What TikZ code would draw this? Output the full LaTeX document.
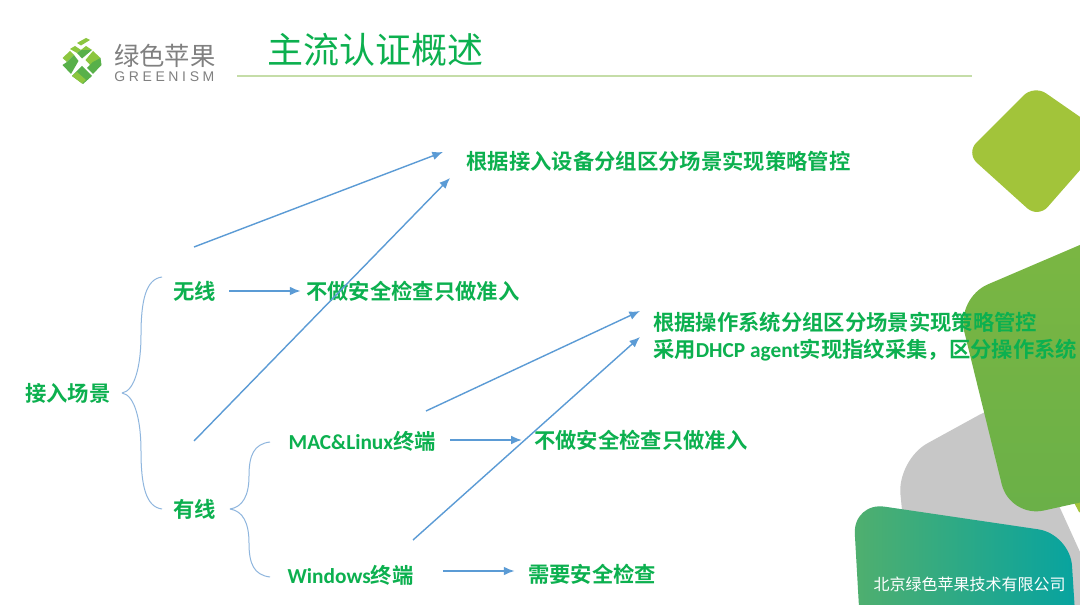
\documentclass[tikz,border=0pt]{standalone}
\usepackage{fontspec}
\setmainfont{Liberation Sans}
\newfontfamily\cjk{Noto Sans CJK SC}
\newfontfamily\cjkb{Noto Sans CJK SC Bold}
\newfontfamily\latb{Carlito}[BoldFont={Carlito Bold}]
\newcommand{\lat}[1]{{\latb\bfseries #1}}
\usetikzlibrary{arrows.meta}
\definecolor{lab}{HTML}{0CB04F}
\definecolor{arrowblue}{HTML}{5B9BD5}
\definecolor{braceblue}{HTML}{8FB6DE}
\definecolor{rule}{HTML}{C5DDA8}
\definecolor{lime}{HTML}{A2C43A}
\definecolor{logogrey}{HTML}{808080}
\definecolor{leafa}{HTML}{8CC63F}
\definecolor{leafb}{HTML}{58B04A}
\definecolor{tileg}{HTML}{7CB742}
\definecolor{tileh}{HTML}{6AB048}
\definecolor{tilea}{HTML}{50AF6E}
\definecolor{tileb}{HTML}{06A3A0}
\tikzset{
  x=0.75pt,y=-0.75pt,
  lbl/.style={font=\fontsize{16pt}{20.25pt}\selectfont\cjkb,text=lab,inner sep=4pt,anchor=west},
  link/.style={draw=arrowblue,line width=1.05pt,-{Latex[length=8pt,width=6.5pt]}},
  brace/.style={draw=braceblue,line width=0.75pt}
}
\begin{document}
\begin{tikzpicture}
\useasboundingbox (0,0) rectangle (1080,605);
\fill[white] (0,0) rectangle (1080,605);
\begin{scope}
\clip (0,0) rectangle (1080,605);
% decorative tiles, back to front
\fill[lime,rounded corners=11pt] (966,153) -- (1034,85) -- (1109,137) -- (1038,218) -- cycle;
\fill[lime] (1070,495) -- (1085,495) -- (1085,515) -- (1079,512) -- cycle;
\fill[black!22,rounded corners=26pt] (1010,398) -- (897,460) -- (915,640) -- (1120,640) -- cycle;
\shade[top color=tileg,bottom color=tileh,rounded corners=26pt]
  (956,298) -- (1150,215) -- (1150,487) -- (1010,518) -- cycle;
\shade[left color=tilea,right color=tileb,rounded corners=24pt]
  (853,502) -- (1070,534) -- (1078,660) -- (862,660) -- cycle;
\end{scope}

% logo mark: four chevron groups split by a white cross
\fill[leafa] (77,43) -- (86,38) -- (90,40) -- (81,45.5) -- cycle;
\fill[leafa] (70,49) -- (75,46) -- (81,50) -- (77,53) -- cycle;
\fill[leafb] (77,53) -- (81,50) -- (92,50) -- (82,58.5) -- cycle;
\fill[leafa] (81,50) -- (86,46) -- (92,50) -- cycle;
\fill[leafa] (62.5,58) -- (70,51) -- (74,55) -- (67,62) -- cycle;
\fill[leafb] (67,62) -- (74,55) -- (78.5,61) -- (71,74) -- (62.5,65) -- cycle;
\fill[leafa] (100.5,58) -- (93,51) -- (85.5,60) -- (93,68) -- cycle;
\fill[leafb] (100.5,58) -- (101.5,65) -- (93,74) -- (87,68) -- (93,62) -- cycle;
\fill[leafb] (82,66) -- (92,76) -- (83,84) -- (72,76) -- cycle;
\fill[leafa] (72,76) -- (77,72) -- (86,80) -- (82,83.5) -- cycle;

% header
\node[font=\fontsize{27pt}{30pt}\selectfont\cjk,text=lab,inner sep=0pt,anchor=west] (title) at (267,50) {主流认证概述};
\node[font=\fontsize{19pt}{22pt}\selectfont\cjk,text=logogrey,inner sep=0pt,anchor=west] (logoname) at (114,56) {绿色苹果};
\node[font=\fontsize{10.5pt}{12pt}\selectfont\addfontfeature{LetterSpace=26},text=logogrey,inner sep=0pt,anchor=west] (logolatin) at (114,76.5) {GREENISM};
\coordinate (ruleL) at (237,76);
\coordinate (ruleR) at (972,76);
\draw[rule,line width=1pt] (ruleL) -- (ruleR);

% labels
\node[lbl] (root) at (19.5,393) {接入场景};
\node[lbl] (wifi) at (167.5,291) {无线};
\node[lbl] (wired) at (167.5,509) {有线};
\node[lbl] (wifipass) at (300.5,291) {不做安全检查只做准入};
\node[lbl] (wifipolicy) at (461,161) {根据接入设备分组区分场景实现策略管控};
\node[lbl] (mac) at (283,441) {\lat{MAC\&Linux}终端};
\node[lbl] (win) at (282,575) {\lat{Windows}终端};
\node[lbl] (macpass) at (528.5,440) {不做安全检查只做准入};
\node[lbl] (wincheck) at (522.5,574) {需要安全检查};
\node[lbl,align=left] (ospolicy) at (647.5,337) {根据操作系统分组区分场景实现策略管控\\采用\lat{DHCP agent}实现指纹采集，区分操作系统};
\node[font=\fontsize{12pt}{14pt}\selectfont\cjk,text=white,inner sep=0pt,anchor=east] (company) at (1066,584) {北京绿色苹果技术有限公司};

% free ends of the slanted arrows
\coordinate (a1s) at (194,247); \coordinate (a1e) at (443,152);
\coordinate (a2s) at (194,441); \coordinate (a2e) at (450,178);
\coordinate (a4s) at (426,411); \coordinate (a4e) at (640,311);
\coordinate (a5s) at (413,540); \coordinate (a5e) at (640,337);
\draw[link] (a1s) -- (a1e);
\draw[link] (a2s) -- (a2e);
\draw[link] (a4s) -- (a4e);
\draw[link] (a5s) -- (a5e);
\draw[link,shorten <=6pt] (wifi.east) -- (wifipass.west);
\draw[link,shorten <=6.5pt,shorten >=5pt] (mac.east|-macpass.west) -- (macpass.west);
\draw[link,shorten <=18pt,shorten >=6pt] (win.east|-wincheck.west) ++(0,-3) -- ([yshift=2.25pt]wincheck.west);

% curly braces
\coordinate (b1t) at (122,393);
\coordinate (b1u) at (162,277);
\coordinate (b1d) at (162,509);
\draw[brace] (b1t) .. controls (135,391) and (141,365) .. (141,335) .. controls (141,300) and (146,279) .. (b1u);
\draw[brace] (b1t) .. controls (135,395) and (141,421) .. (141,451) .. controls (141,486) and (146,507) .. (b1d);
\coordinate (b2t) at (230,509);
\coordinate (b2u) at (270,442);
\coordinate (b2d) at (270,577);
\draw[brace] (b2t) .. controls (243,507) and (249,495) .. (249,476) .. controls (249,455) and (254,444) .. (b2u);
\draw[brace] (b2t) .. controls (243,511) and (249,523) .. (249,543) .. controls (249,564) and (254,575) .. (b2d);
\end{tikzpicture}
\end{document}
